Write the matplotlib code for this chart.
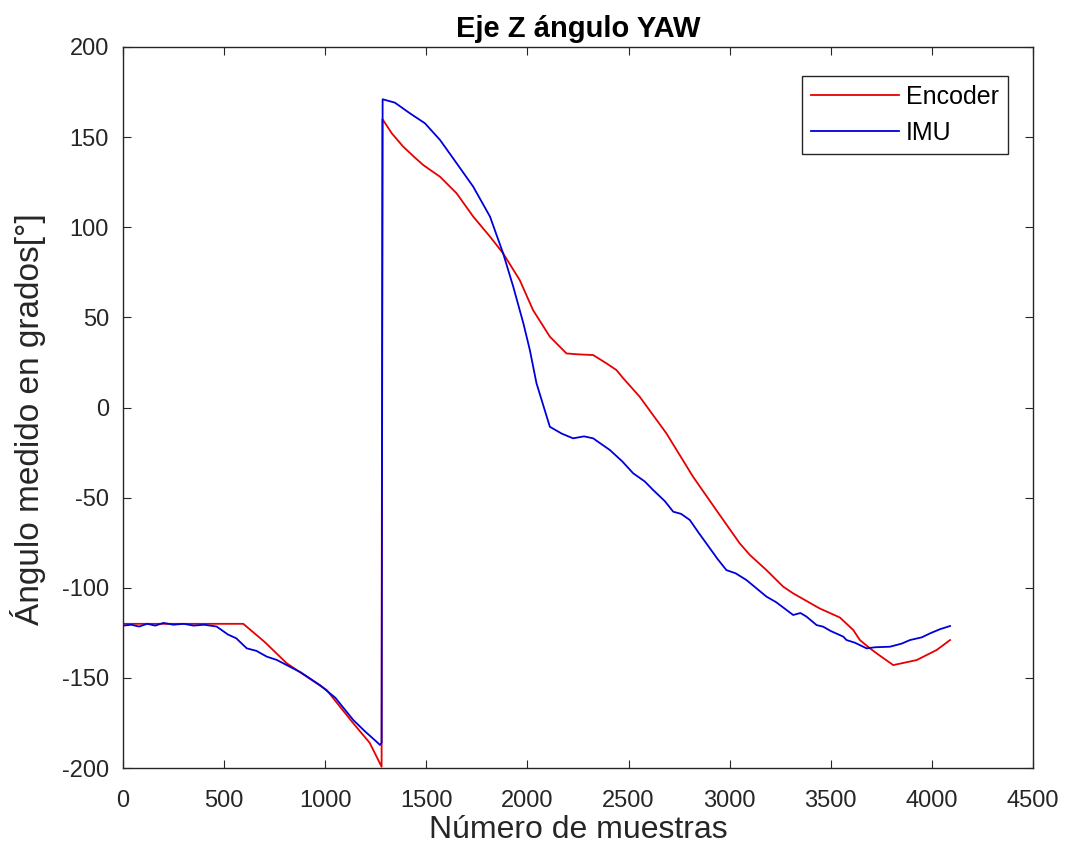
import matplotlib
matplotlib.use("Agg")
import matplotlib.pyplot as plt

plt.rcParams['font.family'] = ['Liberation Sans', 'DejaVu Sans']
plt.rcParams['axes.unicode_minus'] = False

# Encoder (red) samples
enc_x = [0, 300, 595, 700, 810, 1007, 1139, 1220, 1279, 1280, 1283,
         1330, 1386, 1440, 1485, 1568, 1650, 1732, 1815, 1880, 1962, 2028, 2111, 2193,
         2250, 2325, 2391, 2440, 2474, 2555, 2687, 2819, 2934, 3050, 3100, 3182,
         3265, 3314, 3430, 3446, 3545, 3611, 3644, 3694, 3727, 3809, 3925, 4024, 4090]
enc_y = [-120, -120, -120, -130, -141.9, -156.7, -175.2, -186, -199.3, -69, 160,
         152, 144.7, 139, 134.5, 128, 118.8, 105.9, 94.8, 85.5, 70.7, 54, 39.3, 30,
         29.5, 29.1, 24.5, 20.8, 16.2, 6, -14.3, -38.4, -56.9, -75.4, -81.8, -90.2,
         -99.4, -103.1, -110.5, -111.5, -116.5, -123.4, -129, -133.6, -136.4, -142.9, -140.1, -134.5, -129]

# IMU (blue) samples
imu_x = [0, 40, 80, 120, 160, 200, 250, 300, 350, 400, 463, 520, 560, 612, 660, 711,
         760, 810, 880, 974, 1050, 1139, 1200, 1250, 1271, 1279, 1284,
         1345, 1419, 1493, 1568, 1650, 1732, 1815, 1880, 1930, 1980, 2012, 2045,
         2111, 2170, 2226, 2280, 2325, 2408, 2470, 2523, 2580, 2622, 2680, 2721, 2760,
         2803, 2850, 2885, 2940, 2984, 3030, 3083, 3140, 3182, 3230, 3281, 3314, 3350,
         3380, 3430, 3463, 3500, 3562, 3578, 3620, 3677, 3720, 3793, 3850, 3892, 3950,
         3991, 4040, 4090]
imu_y = [-121, -120.5, -121.5, -120, -121, -119.5, -120.5, -120, -121, -120.5, -121.5, -126, -128, -133.6, -135, -138.2,
         -140, -142.9, -147, -154, -161, -173.4, -180, -185, -187.2, -186, 171,
         169.1, 163.2, 157.7, 148.4, 135.5, 122.5, 105.9, 85.5, 67, 46.7, 31.9, 13.4,
         -10.7, -14.5, -17.1, -16, -17.1, -23.6, -30, -36.5, -41, -45.8, -52, -57.8, -59,
         -62.4, -70, -75.4, -84, -90.2, -92, -95.7, -101, -104.9, -108, -112.3, -115.1, -114,
         -116, -120.7, -121.6, -124, -127.1, -129, -130.5, -133.6, -133, -132.7, -131, -129, -127.5,
         -125.3, -123, -121.2]

xticks = [0, 500, 1000, 1500, 2000, 2500, 3000, 3500, 4000, 4500]
yticks = [-200, -150, -100, -50, 0, 50, 100, 150, 200]

fig = plt.figure(figsize=(10.73, 8.59), dpi=100)
ax = fig.add_axes([0.1146, 0.1059, 0.8481, 0.8394])

ax.plot(enc_x, enc_y, color=(0.9, 0.0, 0.0), lw=1.3, label='Encoder')
ax.plot(imu_x, imu_y, color=(0.0, 0.0, 0.85), lw=1.3, label='IMU')

ax.set_xlim(0, 4500)
ax.set_ylim(-200, 200)
ax.set_xticks(xticks)
ax.set_yticks(yticks)
ax.tick_params(direction='in', top=True, right=True, labelsize=17, length=6,
               colors='#262626')
ax.tick_params(axis='x', pad=16)
ax.tick_params(axis='y', pad=10)
for s in ax.spines.values():
    s.set_color('#262626')
    s.set_linewidth(1.0)

ax.set_title('Eje Z ángulo YAW', fontsize=21, fontweight='bold', pad=7)
ax.set_xlabel('Número de muestras', fontsize=23, color='#262626', labelpad=2)
ax.set_ylabel('Ángulo medido en grados[°]', fontsize=24, color='#262626')
ax.yaxis.set_label_coords(-0.085, 0.484)

leg = ax.legend(loc='upper right', bbox_to_anchor=(0.9725, 0.96), fontsize=18,
                handlelength=3.5, handletextpad=0.3, fancybox=False, edgecolor='#262626',
                framealpha=1, borderpad=0.35, labelspacing=0.5, borderaxespad=0)
leg.get_frame().set_linewidth(1.0)

fig.savefig('out.png', dpi=100)
